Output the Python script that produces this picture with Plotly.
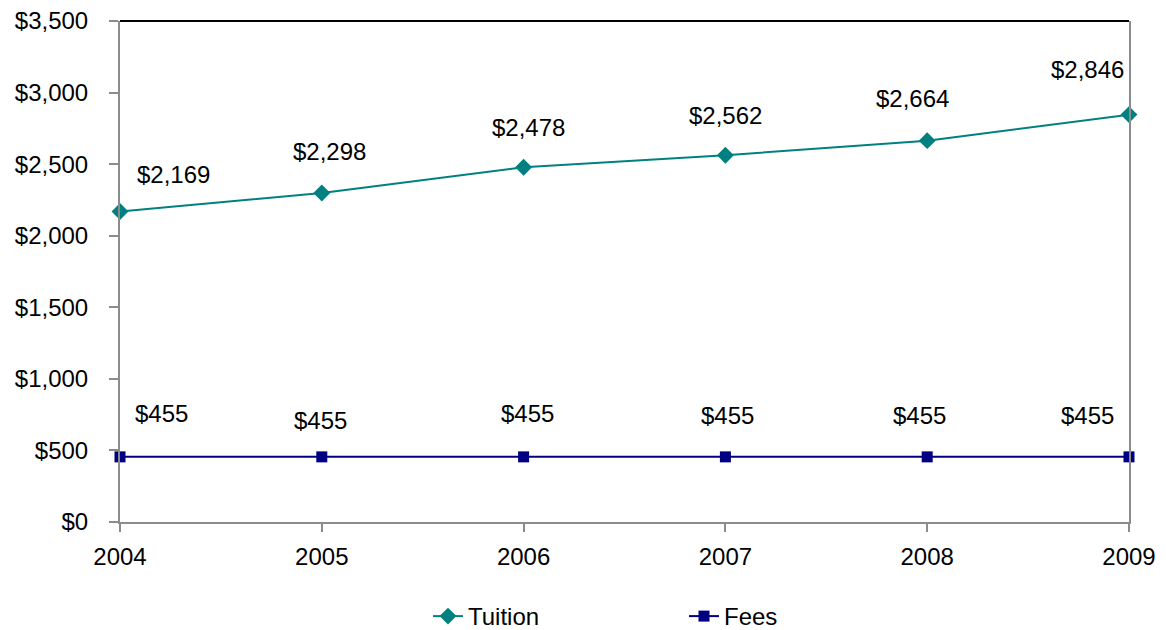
import plotly.graph_objects as go

years = [2004, 2005, 2006, 2007, 2008, 2009]
tuition = [2169, 2298, 2478, 2562, 2664, 2846]
fees = [455, 455, 455, 455, 455, 455]
y_ticks = [0, 500, 1000, 1500, 2000, 2500, 3000, 3500]

# label offsets (pixels) mimicking Excel's label placement
tuition_dx = [53, 8, 5, 0, -15, -42]
tuition_dy = [37, 42, 40, 40, 42, 45]
fees_dx = [41, -1, 4, 2, -8, -42]
fees_dy = [43, 36, 43, 41, 41, 41]

FONT = "Liberation Sans, Arial, sans-serif"
FS = 24
TEAL = "#008080"
NAVY = "#000080"

fig = go.Figure()
fig.add_trace(go.Scatter(x=years, y=tuition, name="Tuition", mode="lines+markers",
                         line=dict(color=TEAL, width=2),
                         marker=dict(symbol="diamond", size=13, color=TEAL),
                         cliponaxis=False))
fig.add_trace(go.Scatter(x=years, y=fees, name="Fees", mode="lines+markers",
                         line=dict(color=NAVY, width=2),
                         marker=dict(symbol="square", size=11, color=NAVY),
                         cliponaxis=False))

annotations = []
for x, v, dx, dy in zip(years, tuition, tuition_dx, tuition_dy):
    annotations.append(dict(x=x, y=v, text=f"${v:,}", showarrow=False,
                            xshift=dx, yshift=dy, font=dict(size=FS, color="black", family=FONT)))
for x, v, dx, dy in zip(years, fees, fees_dx, fees_dy):
    annotations.append(dict(x=x, y=v, text=f"${v:,}", showarrow=False,
                            xshift=dx, yshift=dy, font=dict(size=FS, color="black", family=FONT)))

fig.update_layout(
    width=1166, height=630,
    margin=dict(l=120, r=37, t=21, b=108, autoexpand=False),
    plot_bgcolor="white", paper_bgcolor="white",
    font=dict(family=FONT, size=FS, color="black"),
    showlegend=True,
    legend=dict(orientation="h", xref="container", yref="container",
                x=428 / 1166, xanchor="left", y=1 - 594 / 630, yanchor="top",
                font=dict(size=FS), entrywidth=211, entrywidthmode="pixels",
                traceorder="normal", bgcolor="rgba(0,0,0,0)"),
    annotations=annotations,
    shapes=[dict(type="line", xref="paper", yref="paper", x0=0, x1=1, y0=1, y1=1,
                 line=dict(color="black", width=2))],
)
fig.update_xaxes(range=[2004, 2009], tickvals=years, ticktext=[str(y) for y in years],
                 showgrid=False, zeroline=False, showline=True, linecolor="#8c8c8c", linewidth=2,
                 ticks="outside", ticklen=8, tickcolor="#8c8c8c", tickwidth=2, ticklabelstandoff=4,
                 automargin=False)
fig.update_yaxes(range=[0, 3500], tickvals=y_ticks, ticktext=[f"${t:,}" for t in y_ticks],
                 showgrid=False, zeroline=False, showline=True, linecolor="#8c8c8c", linewidth=2,
                 mirror=True, ticks="outside", ticklen=9, tickcolor="#8c8c8c", tickwidth=2,
                 ticklabelstandoff=16, automargin=False)

fig.write_html("out.html", config={"displayModeBar": False},
               post_script="document.body.style.margin='0';")
